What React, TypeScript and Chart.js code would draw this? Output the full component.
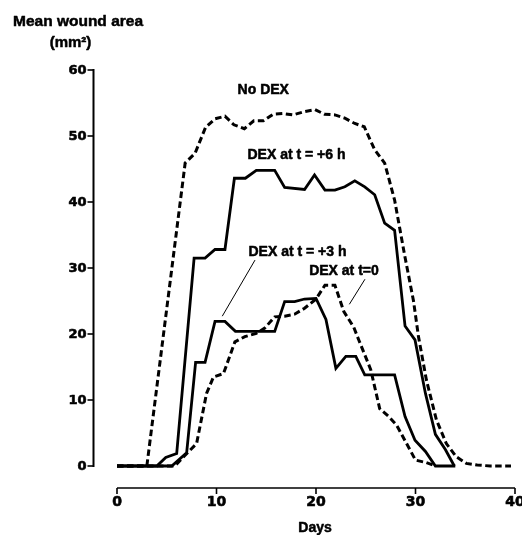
import React, { useEffect, useRef } from "react";
import { Chart, registerables } from "chart.js";

Chart.register(...registerables);

// ---- data (days, mean wound area mm²) ----
const noDexDays = [0, 3.0, 6.85, 7.85, 8.9, 9.85, 10.85, 11.75, 12.8, 13.75, 14.7, 15.7, 16.7, 17.7, 18.85, 19.9, 20.85, 21.9, 22.9, 23.9, 24.85, 25.9, 26.9, 27.9, 28.9, 29.8, 30.3, 31.1, 32.1, 33.1, 34.1, 35.1, 36.2, 37.5, 39.6];
const noDexVals = [0, 0, 45.9, 47.4, 51.3, 52.6, 53.0, 51.7, 51.1, 52.3, 52.3, 53.3, 53.4, 53.2, 53.7, 54.0, 53.3, 53.2, 52.7, 51.9, 51.4, 47.9, 45.9, 40.3, 32.0, 25.0, 19.6, 13.0, 7.0, 3.4, 1.4, 0.4, 0.15, 0, 0];

const plus6Days = [0, 4.0, 4.9, 6.0, 7.75, 8.85, 9.85, 10.85, 11.8, 12.9, 14.0, 15.85, 16.85, 18.85, 19.85, 20.9, 21.9, 22.9, 23.9, 24.9, 25.9, 26.9, 27.9, 28.95, 29.95, 31.0, 32.0, 33.0, 33.9];
const plus6Vals = [0, 0, 1.3, 1.9, 31.5, 31.5, 32.8, 32.8, 43.6, 43.6, 44.8, 44.8, 42.2, 41.9, 44.1, 41.8, 41.8, 42.3, 43.2, 42.3, 41.1, 36.8, 35.7, 21.2, 19.1, 11.0, 4.8, 2.5, 0];

const plus3Days = [0, 5.5, 7.0, 7.9, 8.85, 9.85, 10.85, 11.9, 15.85, 16.85, 17.85, 18.85, 20.0, 21.0, 22.0, 23.0, 24.0, 24.9, 27.9, 28.95, 29.95, 31.0, 32.0, 34.0];
const plus3Vals = [0, 0, 2.0, 15.7, 15.7, 21.9, 21.9, 20.4, 20.4, 24.9, 24.9, 25.3, 25.4, 22.2, 14.8, 16.6, 16.6, 13.8, 13.8, 7.5, 3.9, 2.2, 0, 0];

const zeroDays = [0, 5.8, 6.7, 8.0, 9.0, 9.7, 10.7, 11.85, 12.85, 14.0, 14.85, 15.85, 16.85, 17.85, 18.85, 20.0, 20.9, 21.9, 22.8, 23.8, 24.3, 25.5, 26.4, 27.3, 28.1, 30.0, 31.1, 32.0];
const zeroVals = [0, 0, 1.4, 3.4, 11.0, 13.5, 14.0, 18.8, 19.6, 20.1, 20.9, 22.6, 22.7, 23.0, 23.9, 25.3, 27.4, 27.4, 23.4, 21.0, 19.1, 14.6, 8.7, 7.5, 6.2, 0.9, 0.5, 0];

// leader lines for annotations (data coordinates)
const leader3Days = [13.87, 10.58];
const leader3Vals = [31.2, 22.7];
const leader0Days = [24.92, 23.35];
const leader0Vals = [28.3, 24.5];

// annotation labels (data coordinates)
const seriesLabels = ["No DEX", "DEX at t = +6 h", "DEX at t = +3 h", "DEX at t=0"];
const labelDays = [14.7, 18.04, 18.14, 22.81];
const labelVals = [57.0, 47.05, 32.35, 29.58];

const xTicks = [0, 10, 20, 30, 40];
const yTicks = [0, 10, 20, 30, 40, 50, 60];
const yTitle = ["Mean wound area", "(mm\u00B2)"];
const xTitle = "Days";

const pts = (d: number[], v: number[]) => d.map((x, i) => ({ x, y: v[i] }));

const SANS = '"Liberation Sans", Arial, Helvetica, sans-serif';
const WIDE = '"DejaVu Sans", "Liberation Sans", sans-serif';

function boldText(ctx: CanvasRenderingContext2D, s: string, x: number, y: number) {
  ctx.fillText(s, x, y);
  ctx.strokeText(s, x, y);
}

const axesPlugin = {
  id: "customAxes",
  afterDatasetsDraw(chart: any) {
    const ctx = chart.ctx as CanvasRenderingContext2D;
    const xs = chart.scales.x;
    const ys = chart.scales.y;
    ctx.save();
    ctx.strokeStyle = "#000";
    ctx.fillStyle = "#000";
    ctx.lineJoin = "round";

    // y axis (detached, left of x=0)
    const yAxisX = xs.getPixelForValue(0) - 23.5;
    const yTop = ys.getPixelForValue(yTicks[yTicks.length - 1]);
    const yBot = ys.getPixelForValue(yTicks[0]);
    ctx.lineWidth = 2;
    ctx.beginPath();
    ctx.moveTo(yAxisX, yTop - 1);
    ctx.lineTo(yAxisX, yBot + 1);
    ctx.stroke();
    ctx.font = `bold 13px ${WIDE}`;
    ctx.textAlign = "right";
    ctx.textBaseline = "middle";
    yTicks.forEach((t) => {
      const py = ys.getPixelForValue(t);
      ctx.lineWidth = 1.6;
      ctx.beginPath();
      ctx.moveTo(yAxisX - 6, py);
      ctx.lineTo(yAxisX, py);
      ctx.stroke();
      ctx.lineWidth = 0.6;
      boldText(ctx, String(t), yAxisX - 7, py + 0.5);
    });

    // x axis (detached, below y=0)
    const xAxisY = ys.getPixelForValue(0) + 22;
    const xL = xs.getPixelForValue(xTicks[0]);
    const xR = xs.getPixelForValue(xTicks[xTicks.length - 1]);
    ctx.lineWidth = 1.6;
    ctx.beginPath();
    ctx.moveTo(xL, xAxisY);
    ctx.lineTo(xR, xAxisY);
    ctx.stroke();
    ctx.font = `bold 14px ${WIDE}`;
    ctx.textAlign = "center";
    ctx.textBaseline = "alphabetic";
    xTicks.forEach((t) => {
      const px = xs.getPixelForValue(t);
      ctx.lineWidth = 1.6;
      ctx.beginPath();
      ctx.moveTo(px, xAxisY);
      ctx.lineTo(px, xAxisY + 6);
      ctx.stroke();
      ctx.lineWidth = 0.6;
      boldText(ctx, String(t), px, xAxisY + 18);
    });

    // axis titles
    ctx.lineWidth = 0.5;
    ctx.font = `bold 14px ${SANS}`;
    boldText(ctx, xTitle, (xL + xR) / 2 - 1, xAxisY + 44);
    ctx.font = `bold 15.5px ${SANS}`;
    ctx.textAlign = "center";
    boldText(ctx, yTitle[0], 78, 26);
    ctx.font = `bold 15px ${SANS}`;
    boldText(ctx, yTitle[1], 70.5, 47);

    // annotations
    ctx.font = `bold 14px ${SANS}`;
    ctx.textBaseline = "middle";
    seriesLabels.forEach((s, i) => {
      boldText(ctx, s, xs.getPixelForValue(labelDays[i]), ys.getPixelForValue(labelVals[i]));
    });
    ctx.restore();
  },
};

export default function App() {
  const ref = useRef<HTMLCanvasElement | null>(null);
  useEffect(() => {
    document.body.style.margin = "0";
    const canvas = ref.current!;
    const solid = { borderColor: "#000", borderWidth: 2.8, pointRadius: 0, tension: 0, fill: false, clip: false as any };
    const dashed = { ...solid, borderWidth: 3, borderDash: [6.5, 3.5] };
    const chart = new Chart(canvas, {
      type: "line",
      data: {
        datasets: [
          { label: seriesLabels[0], data: pts(noDexDays, noDexVals), ...dashed },
          { label: seriesLabels[1], data: pts(plus6Days, plus6Vals), ...solid },
          { label: seriesLabels[2], data: pts(plus3Days, plus3Vals), ...solid },
          { label: seriesLabels[3], data: pts(zeroDays, zeroVals), ...dashed },
          { label: "leader3", data: pts(leader3Days, leader3Vals), ...solid, borderWidth: 1 },
          { label: "leader0", data: pts(leader0Days, leader0Vals), ...solid, borderWidth: 1 },
        ],
      },
      options: {
        responsive: false,
        animation: false,
        layout: { padding: { left: 117, right: 7, top: 70, bottom: 69 } },
        scales: {
          x: { type: "linear", min: 0, max: 40, display: false },
          y: { type: "linear", min: 0, max: 60, display: false },
        },
        plugins: { legend: { display: false }, tooltip: { enabled: false }, title: { display: false } },
      },
      plugins: [axesPlugin],
    });
    return () => chart.destroy();
  }, []);
  return (
    <div style={{ width: 522, height: 535, background: "#fff" }}>
      <canvas ref={ref} width={522} height={535} style={{ display: "block", width: 522, height: 535 }} />
    </div>
  );
}
